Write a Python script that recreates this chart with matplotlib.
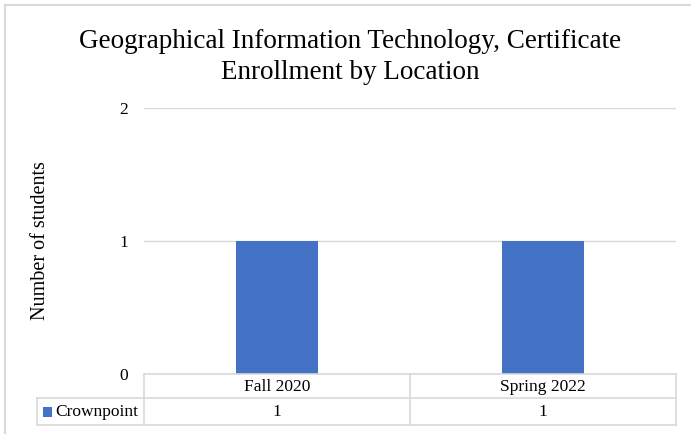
import matplotlib
matplotlib.use("Agg")
import matplotlib.pyplot as plt
from matplotlib.lines import Line2D
from matplotlib.patches import Rectangle
import matplotlib.transforms as mtransforms

categories = ["Fall 2020", "Spring 2022"]
series_name = "Crownpoint"
values = [1, 1]
yticks = [0, 1, 2]
title_lines = ["Geographical Information Technology, Certificate", "Enrollment by Location"]

plt.rcParams['font.family'] = ['Liberation Serif', 'DejaVu Serif']

W, H = 691, 434
fig = plt.figure(figsize=(W / 100, H / 100), dpi=100)

def fx(px):
    return px / W

def fy(py):
    return 1 - py / H

trans = fig.transFigure
border = '#d9d9d9'
# figure border (top and left visible)
fig.add_artist(Line2D([fx(5), fx(691)], [fy(5), fy(5)], transform=trans, color=border, lw=1.5))
fig.add_artist(Line2D([fx(5), fx(5)], [fy(5), fy(434)], transform=trans, color=border, lw=1.5))

left, right, top, bottom = 144, 676, 108, 374
ax = fig.add_axes([fx(left), fy(bottom), fx(right) - fx(left), fy(top) - fy(bottom)])
color = '#4472c4'
x = list(range(len(categories)))
ax.bar(x, values, width=0.31, color=color, zorder=3)
ax.set_xlim(-0.5, len(categories) - 0.5)
ax.set_ylim(0, 2)
ax.set_yticks(yticks)
ax.set_yticklabels([str(t) for t in yticks], fontsize=12.5)
ax.tick_params(axis='y', length=0, pad=11.5)
ax.set_xticks([])
for s in ax.spines.values():
    s.set_visible(False)
ax.grid(axis='y', color='#d9d9d9', lw=1, zorder=0)
ax.set_ylabel("Number of students", fontsize=14.5)
ax.yaxis.set_label_coords((41 - left) / (right - left), 0.5)
ax.yaxis.label.set_va('center')

# data table
gc = '#d9d9d9'
row1_top, row1_bot, row2_bot = 374, 398, 425
tlab = 37
def hline(y, x0, x1):
    fig.add_artist(Line2D([fx(x0), fx(x1)], [fy(y), fy(y)], transform=trans, color=gc, lw=1.2))
def vline(xp, y0, y1):
    fig.add_artist(Line2D([fx(xp), fx(xp)], [fy(y0), fy(y1)], transform=trans, color=gc, lw=1.2))

hline(row1_top, left, right)
hline(row1_bot, tlab, right)
hline(row2_bot, tlab, right)
vline(tlab, row1_bot, row2_bot)
vline(left, row1_top, row2_bot)
vline(right, row1_top, row2_bot)
n = len(categories)
cw = (right - left) / n
for i in range(1, n):
    vline(left + cw * i, row1_top, row2_bot)

blend = mtransforms.blended_transform_factory(ax.transData, fig.transFigure)
for i, (c, v) in enumerate(zip(categories, values)):
    ax.text(i, fy((row1_top + row1_bot) / 2 + 1), c, transform=blend, ha='center', va='center', fontsize=12.5)
    ax.text(i, fy((row1_bot + row2_bot) / 2 + 1), str(v), transform=blend, ha='center', va='center', fontsize=12.5)

fig.add_artist(Rectangle((fx(43), fy(417)), fx(9), fy(407) - fy(417), transform=trans,
                         facecolor=color, edgecolor='none'))
fig.text(fx(55), fy((row1_bot + row2_bot) / 2 + 1), series_name, ha='left', va='center', fontsize=12.5)

fig.text(fx(350), fy(48), title_lines[0], ha='center', va='baseline', fontsize=19.5)
fig.text(fx(350), fy(79), title_lines[1], ha='center', va='baseline', fontsize=19.5)

fig.savefig("out.png", dpi=100)
